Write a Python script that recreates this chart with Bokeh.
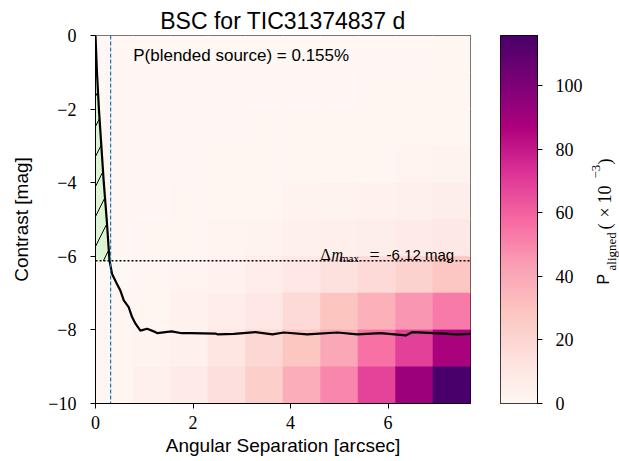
import numpy as np
from bokeh.plotting import figure
from bokeh.models import (LinearColorMapper, FixedTicker, Label, Span,
                          ColumnDataSource, Range1d)
from bokeh.layouts import row
from bokeh.embed import file_html
from bokeh.resources import INLINE
from bokeh.palettes import RdPu9

# ---------------- data ----------------
title_text = "BSC for TIC31374837 d"
p_blend_pct = 0.155
dm_max = -6.12
sep_limit = 0.31

# separation bin edges [arcsec] and contrast bin edges [mag]
sep_edges = [0.0, 0.769, 1.538, 2.307, 3.076, 3.845, 4.614, 5.383, 6.152, 6.921, 7.69]
dmag_edges = [0, -1, -2, -3, -4, -5, -6, -7, -8, -9, -10]

# P_aligned (x1e-3) per cell: one list per contrast row (top -> bottom), columns by separation bin
p_row0 = [0.05, 0.1, 0.15, 0.2, 0.25, 0.3, 0.35, 0.4, 0.45, 0.5]
p_row1 = [0.05, 0.1, 0.2, 0.25, 0.3, 0.4, 0.45, 0.55, 0.6, 0.7]
p_row2 = [0.05, 0.15, 0.25, 0.35, 0.5, 0.6, 0.75, 0.9, 1.0, 1.2]
p_row3 = [0.1, 0.2, 0.4, 0.6, 0.8, 1.1, 1.4, 1.8, 2.1, 2.5]
p_row4 = [0.1, 0.4, 0.8, 1.2, 1.8, 2.3, 3.0, 3.5, 4.5, 5.5]
p_row5 = [0.2, 0.6, 1.3, 2.2, 3.0, 4.0, 5.0, 6.0, 8.0, 9.5]
p_row6 = [0.3, 0.8, 2.0, 3.5, 6.5, 10.0, 14.0, 18.0, 22.0, 28.0]
p_row7 = [0.5, 1.5, 3.5, 6.5, 10.0, 18.0, 29.0, 37.0, 46.0, 53.0]
p_row8 = [0.6, 2.5, 4.5, 10.7, 19.8, 28.9, 40.0, 55.5, 69.0, 88.0]
p_row9 = [1.2, 4.4, 8.2, 14.5, 23.6, 37.7, 50.0, 67.8, 91.5, 115.7]
p_rows = [p_row0, p_row1, p_row2, p_row3, p_row4, p_row5, p_row6, p_row7, p_row8, p_row9]

# contrast curve
curve_sep = [0.0, 0.03, 0.07, 0.12, 0.17, 0.23, 0.287, 0.34, 0.44, 0.51, 0.58, 0.68,
             0.75, 0.82, 0.92, 1.06, 1.23, 1.27, 1.56, 1.77, 1.95, 2.46, 2.5, 2.84,
             3.28, 3.63, 3.86, 4.34, 4.96, 5.37, 5.85, 6.36, 6.5, 6.94, 7.42, 7.69]
curve_dmag = [0.0, -1.0, -2.0, -3.0, -4.0, -5.0, -6.11, -6.48, -6.75, -6.93, -7.2, -7.38,
              -7.65, -7.83, -8.02, -7.97, -8.06, -8.09, -8.04, -8.09, -8.09, -8.1, -8.12, -8.11,
              -8.06, -8.12, -8.07, -8.12, -8.07, -8.12, -8.09, -8.15, -8.06, -8.09, -8.12, -8.11]

x_ticks = [0, 2, 4, 6]
x_tick_labels = ["0", "2", "4", "6"]
y_ticks = [0, -2, -4, -6, -8, -10]
y_tick_labels = ["0", "\u22122", "\u22124", "\u22126", "\u22128", "\u221210"]
cb_ticks = [0, 20, 40, 60, 80, 100]
cb_tick_labels = ["0", "20", "40", "60", "80", "100"]

# ---------------- style ----------------
SANS = "Liberation Sans"
SERIF = "Liberation Serif"

base = [c for c in reversed(RdPu9)]
rgb = np.array([[int(c[i:i + 2], 16) for i in (1, 3, 5)] for c in base], dtype=float)
pos = np.linspace(0, 1, len(base))
t = np.linspace(0, 1, 256)
palette = ["#%02x%02x%02x" % tuple(int(round(np.interp(tt, pos, rgb[:, k]))) for k in range(3)) for tt in t]

vmax = max(max(r) for r in p_rows)
mapper = LinearColorMapper(palette=palette, low=0, high=vmax)

H = 461
TOP, BOT = 35, 58

# ---------------- main figure ----------------
p = figure(width=488, height=H, x_range=Range1d(sep_edges[0], sep_edges[-1]),
           y_range=Range1d(dmag_edges[-1], dmag_edges[0]),
           output_backend="svg", toolbar_location=None,
           min_border_left=95, min_border_right=18, min_border_top=TOP, min_border_bottom=BOT)
p.title.text = title_text
p.title.text_font = SANS
p.title.text_font_size = "23px"
p.title.text_font_style = "normal"
p.title.text_color = "black"
p.title.align = "center"
p.title.standoff = 3
p.grid.visible = False
p.outline_line_color = "black"
p.outline_line_alpha = 1
p.outline_line_width = 1

left, right, top, bottom, val = [], [], [], [], []
for j, r in enumerate(p_rows):
    for i, v in enumerate(r):
        left.append(sep_edges[i]); right.append(sep_edges[i + 1])
        top.append(dmag_edges[j]); bottom.append(dmag_edges[j + 1])
        val.append(v)
src = ColumnDataSource(dict(left=left, right=right, top=top, bottom=bottom, val=val))
p.quad(left="left", right="right", top="top", bottom="bottom", source=src,
       fill_color={"field": "val", "transform": mapper},
       line_color={"field": "val", "transform": mapper}, line_width=0.6)

# shaded blended region
fx = [x for x, y in zip(curve_sep, curve_dmag) if y >= dm_max]
fy = [y for y in curve_dmag if y >= dm_max]
fx = fx + [float(np.interp(dm_max, curve_dmag[:8][::-1], curve_sep[:8][::-1])), 0.0]
fy = fy + [dm_max, dm_max]
p.patch(fx, fy, fill_color="#90ee90", fill_alpha=0.3, line_color=None,
        hatch_pattern="/", hatch_color="black", hatch_weight=1, hatch_scale=30, hatch_alpha=1)

p.add_layout(Span(location=dm_max, dimension="width", line_color="black",
                  line_dash="2 2", line_width=1.6))
p.add_layout(Span(location=sep_limit, dimension="height", line_color="#1f77b4",
                  line_dash="4 2", line_width=1.2))
p.line(curve_sep, curve_dmag, line_color="black", line_width=2.2)

p.add_layout(Label(x=0.773, y=-0.543, text="P(blended source) = %.3f%%" % p_blend_pct,
                   text_font=SANS, text_font_size="17px", text_color="black",
                   text_baseline="alphabetic", text_align="left"))
# Delta m_max label pieces
yb = dm_max + 6 / 36.8
ys = dm_max + 3 / 36.8
for txt, xx, yy, fnt, fs, st in [("\u0394", 4.614, yb, SERIF, "16px", "normal"),
                                 ("m", 4.84, yb, SERIF, "16px", "italic"),
                                 ("max", 5.014, ys, SERIF, "11px", "normal"),
                                 ("=", 5.62, yb, SERIF, "18px", "normal"),
                                 ("%.2f mag" % dm_max, 5.97, yb, SANS, "15px", "normal")]:
    p.add_layout(Label(x=xx, y=yy, text=txt, text_font=fnt, text_font_size=fs,
                       text_font_style=st, text_color="black", text_baseline="alphabetic"))

for ax in (p.xaxis[0], p.yaxis[0]):
    ax.axis_line_color = "black"
    ax.major_tick_line_color = "black"
    ax.major_tick_out = 5
    ax.major_tick_in = 0
    ax.minor_tick_line_color = None
    ax.major_label_text_font = SERIF
    ax.major_label_text_font_size = "18px"
    ax.major_label_text_color = "black"
    ax.axis_label_text_font = SANS
    ax.axis_label_text_font_size = "19px"
    ax.axis_label_text_font_style = "normal"
    ax.axis_label_text_color = "black"

p.xaxis.ticker = FixedTicker(ticks=x_ticks)
p.xaxis.major_label_overrides = dict(zip(x_ticks, x_tick_labels))
p.xaxis.axis_label = "Angular Separation [arcsec]"
p.xaxis.major_label_standoff = 7
p.xaxis.axis_label_standoff = 3
p.yaxis.ticker = FixedTicker(ticks=y_ticks)
p.yaxis.major_label_overrides = dict(zip(y_ticks, y_tick_labels))
p.yaxis.axis_label = "Contrast [mag]"
p.yaxis.major_label_standoff = 14
p.yaxis.axis_label_standoff = 13

# ---------------- colorbar figure ----------------
cb = figure(width=99, height=H, x_range=Range1d(0, 1), y_range=Range1d(0, vmax),
            output_backend="svg", toolbar_location=None,
            x_axis_location=None, y_axis_location="right",
            min_border_left=12, min_border_right=50, min_border_top=TOP, min_border_bottom=BOT)
cb.grid.visible = False
cb.outline_line_color = "black"
cb.outline_line_alpha = 1
grad = np.linspace(0, vmax, 256).reshape(256, 1)
cb.image(image=[grad], x=0, y=0, dw=1, dh=vmax, color_mapper=mapper)
ay = cb.yaxis[0]
ay.ticker = FixedTicker(ticks=cb_ticks)
ay.major_label_overrides = dict(zip(cb_ticks, cb_tick_labels))
ay.axis_line_color = "black"
ay.major_tick_line_color = "black"
ay.major_tick_out = 5
ay.major_tick_in = 0
ay.minor_tick_line_color = None
ay.major_label_text_font = SERIF
ay.major_label_text_font_size = "18px"
ay.major_label_text_color = "black"
ay.major_label_standoff = 13

# ---------------- colorbar title strip (page-pixel coordinates) ----------------
lf = figure(width=32, height=H, x_range=Range1d(587, 619), y_range=Range1d(403, 35),
            output_backend="svg", toolbar_location=None,
            x_axis_location=None, y_axis_location=None,
            min_border_left=0, min_border_right=0, min_border_top=TOP, min_border_bottom=BOT)
lf.grid.visible = False
lf.outline_line_color = None
ang = np.pi / 2
pieces = [("P", 603, 284, SANS, "16px"), ("aligned", 611, 270, SERIF, "13px"),
          ("(", 604, 229, SERIF, "18px"), ("\u00d7", 604, 217, SERIF, "18px"),
          ("10", 604, 203, SERIF, "18px"), ("\u22123", 595, 178, SERIF, "13px"),
          (")", 604, 164, SERIF, "18px")]
for txt, px, py, fnt, fs in pieces:
    lf.add_layout(Label(x=px, y=py, text=txt, angle=ang, text_font=fnt, text_font_size=fs,
                        text_color="black", text_baseline="alphabetic", text_align="left"))

layout = row(p, cb, lf)
open("out.html", "w").write(file_html(layout, INLINE))
